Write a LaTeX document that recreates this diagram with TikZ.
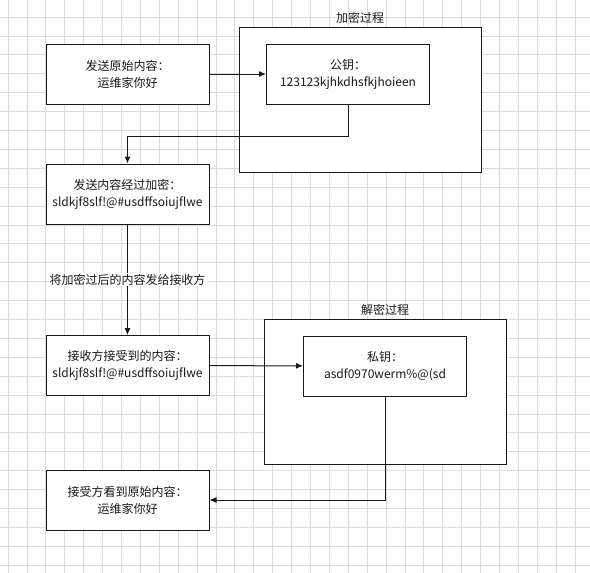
\documentclass[tikz,border=0pt]{standalone}
\usepackage{fontspec}
\setmainfont{Noto Sans CJK SC}
\usetikzlibrary{arrows.meta}
\tikzset{
  gridline/.style={gray!28,line width=0.8pt},
  stagebox/.style={draw=black!90,fill=white,line width=1pt,minimum width=163pt,minimum height=60pt,align=center,font=\fontsize{12}{17}\selectfont,text=black!90},
  groupbox/.style={draw=black!90,fill=white,line width=1pt,minimum width=242pt,minimum height=145pt},
  grouplabel/.style={font=\fontsize{12}{14}\selectfont,text=black!90},
  link/.style={line width=1pt,black!90,-{Latex[length=7pt,width=6pt]}}
}
\begin{document}
\begin{tikzpicture}[x=1pt,y=-1pt]
  \useasboundingbox (0,0) rectangle (590,573);
  % Background grid
  \fill[white] (0,0) rectangle (590,573);
  \foreach \i in {0,...,31}
    \draw[gridline] ({8+18.9*\i},0) -- ({8+18.9*\i},573);
  \foreach \j in {0,...,29}
    \draw[gridline] (0,{17+18.9*\j}) -- (590,{17+18.9*\j});

  % Group frames
  \node[groupbox, label={[grouplabel,yshift=-1pt]above:加密过程}] (encgroup) at (360,99.5) {};
  \node[groupbox, label={[grouplabel,yshift=-1pt]above:解密过程}] (decgroup) at (385,391.5) {};

  % Steps
  \node[stagebox] (send) at (127.5,74) {发送原始内容：\\运维家你好};
  \node[stagebox] (pubkey) at (348,74) {公钥：\\123123kjhkdhsfkjhoieen};
  \node[stagebox] (cipher) at (127.5,194) {发送内容经过加密：\\sldkjf8slf!@\#usdffsoiujflwe};
  \node[stagebox] (recv) at (127.5,365.5) {接收方接受到的内容：\\sldkjf8slf!@\#usdffsoiujflwe};
  \node[stagebox] (privkey) at (385,366) {私钥：\\asdf0970werm\%@(sd};
  \node[stagebox] (plain) at (127.5,500) {接受方看到原始内容：\\运维家你好};

  % Connectors
  \draw[link] (send) -- (pubkey);
  \draw[link] (pubkey.south) -- ++(0,32) -| (cipher.north);
  \draw[link] (cipher) -- node[fill=white,inner sep=1pt,grouplabel] (sendlabel) {将加密过后的内容发给接收方} (recv);
  \draw[link] (recv) -- (privkey);
  \draw[link] (privkey.south) |- (plain.east);
\end{tikzpicture}
\end{document}
